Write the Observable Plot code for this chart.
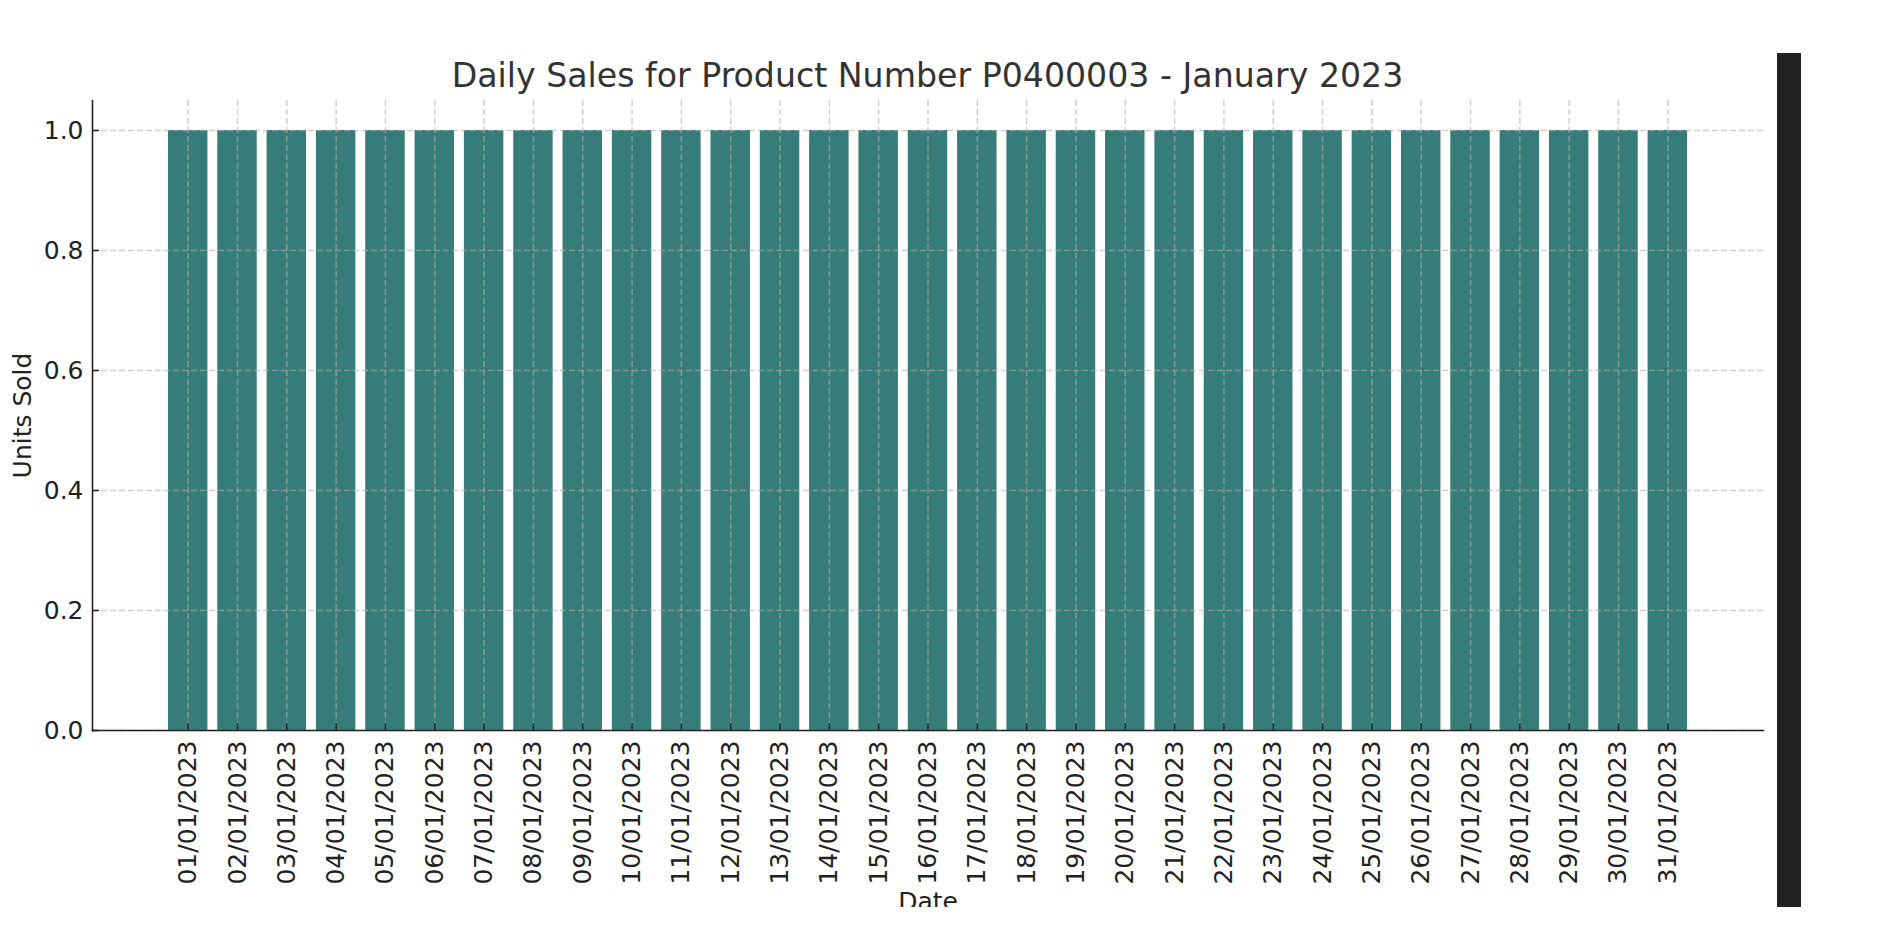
<!DOCTYPE html>
<html>
<head>
<meta charset="utf-8">
<script src="https://cdn.jsdelivr.net/npm/d3@7"></script>
<script src="https://cdn.jsdelivr.net/npm/@observablehq/plot@0.6"></script>
<style>
  html, body { margin: 0; padding: 0; background: #fff; }
  #wrap { position: relative; width: 1885px; height: 946px; overflow: hidden; background: #fff; }
  #title { position: absolute; left: 0; top: 59px; width: 1855px; text-align: center;
           font-family: "DejaVu Sans", sans-serif; font-size: 33.2px; line-height: 33px; color: #333; }
  #bar { position: absolute; left: 1777px; top: 53px; width: 24px; height: 854px; background: #222; }
  #chart { position: absolute; left: 0; top: 0; }
</style>
</head>
<body>
<div id="wrap">
  <div id="chart"></div>
  <div id="title">Daily Sales for Product Number P0400003 - January 2023</div>
  <div id="bar"></div>
</div>
<script>
const dates = ["01/01/2023","02/01/2023","03/01/2023","04/01/2023","05/01/2023","06/01/2023","07/01/2023",
  "08/01/2023","09/01/2023","10/01/2023","11/01/2023","12/01/2023","13/01/2023","14/01/2023","15/01/2023",
  "16/01/2023","17/01/2023","18/01/2023","19/01/2023","20/01/2023","21/01/2023","22/01/2023","23/01/2023",
  "24/01/2023","25/01/2023","26/01/2023","27/01/2023","28/01/2023","29/01/2023","30/01/2023","31/01/2023"];
const unitsSold = [1,1,1,1,1,1,1,1,1,1,1,1,1,1,1,1,1,1,1,1,1,1,1,1,1,1,1,1,1,1,1];
const yTicks = [0, 0.2, 0.4, 0.6, 0.8, 1.0];

const data = dates.map((d, i) => ({date: d, units: unitsSold[i]}));

const gridStyle = {stroke: "#b0b0b0", strokeOpacity: 0.6, strokeDasharray: "6,3", strokeWidth: 1.5};

const chart = Plot.plot({
  width: 1885,
  height: 907,
  marginTop: 100,
  marginBottom: 177,
  marginLeft: 92,
  marginRight: 122,
  style: {fontFamily: "DejaVu Sans, sans-serif", fontSize: "25px", color: "#222", background: "#fff"},
  x: {type: "band", domain: dates, paddingInner: 0.2, paddingOuter: 1.54, align: 0.5, round: false},
  y: {domain: [0, 1.05]},
  marks: [
    Plot.barY(data, {x: "date", y: "units", fill: "#367d7a"}),
    Plot.gridX({...gridStyle}),
    Plot.gridY({ticks: yTicks, ...gridStyle}),
    Plot.axisX({tickSize: -7, tickPadding: 17, tickRotate: -90, strokeWidth: 1.5, label: null, fill: "#222"}),
    Plot.axisY({ticks: yTicks, tickFormat: d3.format(".1f"), tickSize: -7, tickPadding: 16, strokeWidth: 1.5, label: null, fill: "#222"}),
    Plot.frame({anchor: "left", stroke: "#222", strokeWidth: 1.6}),
    Plot.frame({anchor: "bottom", stroke: "#222", strokeWidth: 1.6}),
    Plot.text(["Units Sold"], {frameAnchor: "left", textAnchor: "middle", dx: -70, rotate: -90, fill: "#222", fontSize: 25}),
    Plot.text(["Date"], {frameAnchor: "bottom", lineAnchor: "top", dy: 162, fill: "#222", fontSize: 25})
  ]
});
document.getElementById("chart").appendChild(chart);
</script>
</body>
</html>
